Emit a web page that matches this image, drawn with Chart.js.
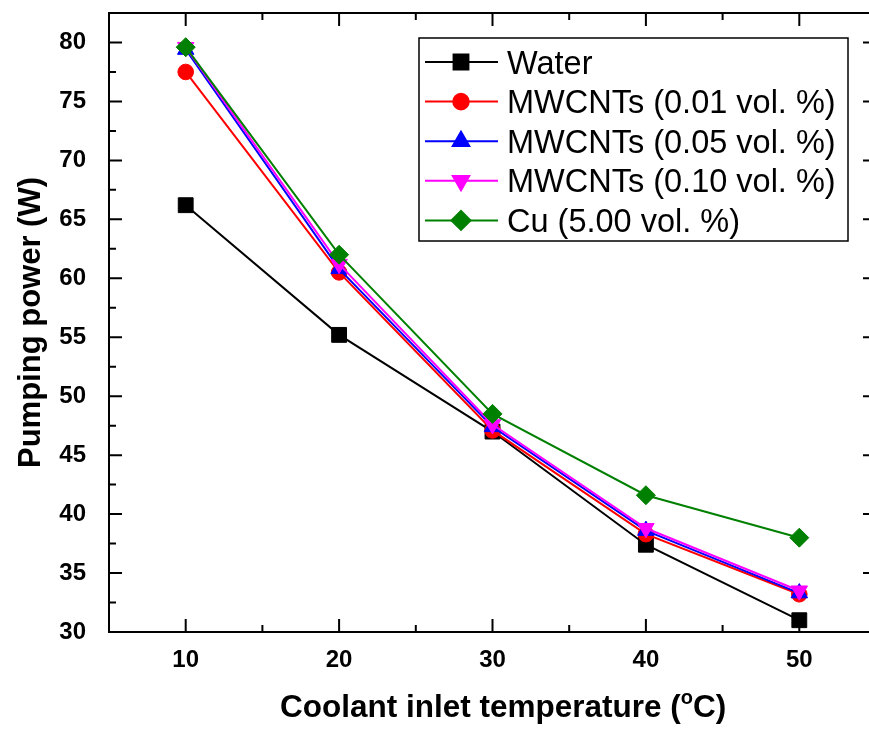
<!DOCTYPE html>
<html>
<head>
<meta charset="utf-8">
<script src="https://cdn.jsdelivr.net/npm/chart.js@4.4.1/dist/chart.umd.min.js"></script>
<style>
  html, body { margin: 0; padding: 0; background: #fff; overflow: hidden; }
  #wrap { width: 888px; height: 729px; }
</style>
</head>
<body>
<div id="wrap"><canvas id="chart" width="888" height="729"></canvas></div>
<script>
// data
const temps = [10, 20, 30, 40, 50];
const water = [66.2, 55.2, 47.0, 37.4, 31.0];
const mw001 = [77.5, 60.5, 47.1, 38.3, 33.2];
const mw005 = [79.4, 60.8, 47.4, 38.6, 33.3];
const mw010 = [79.6, 61.2, 47.6, 38.8, 33.5];
const cu500 = [79.6, 62.0, 48.5, 41.6, 38.0];

const seriesNames = ['Water', 'MWCNTs (0.01 vol. %)', 'MWCNTs (0.05 vol. %)', 'MWCNTs (0.10 vol. %)', 'Cu (5.00 vol. %)'];
const xTicks = [10, 20, 30, 40, 50];
const xMinor = [15, 25, 35, 45];
const yTicks = [30, 35, 40, 45, 50, 55, 60, 65, 70, 75, 80];
const yMinor = [32.5, 37.5, 42.5, 47.5, 52.5, 57.5, 62.5, 67.5, 72.5, 77.5];
const xTitle = ['Coolant inlet temperature (', 'o', 'C)'];

const FONT = "Arial, 'Liberation Sans', sans-serif";

const styles = [
  { color: '#000000', shape: 'rect', r: 10.5, rot: 0 },
  { color: '#ff0000', shape: 'circle', r: 7.8, rot: 0 },
  { color: '#0000ff', shape: 'triangle', r: 9.5, rot: 0 },
  { color: '#ff00ff', shape: 'triangle', r: 9.5, rot: 180 },
  { color: '#008000', shape: 'rectRot', r: 9.5, rot: 0 }
];

const allValues = [water, mw001, mw005, mw010, cu500];

const datasets = allValues.map((vals, i) => ({
  label: seriesNames[i],
  data: temps.map((t, j) => ({ x: t, y: vals[j] })),
  borderColor: styles[i].color,
  backgroundColor: styles[i].color,
  pointBackgroundColor: styles[i].color,
  pointBorderColor: styles[i].color,
  pointBorderWidth: 1,
  pointStyle: styles[i].shape,
  pointRotation: styles[i].rot,
  pointRadius: styles[i].r,
  borderWidth: 2,
  tension: 0,
  order: 5 - i
}));

function noPad(s) {
  s.paddingTop = 0; s.paddingBottom = 0; s.paddingLeft = 0; s.paddingRight = 0;
}

// frame, inward ticks, x title and the legend box
const framePlugin = {
  id: 'frame',
  afterDraw(chart) {
    const ctx = chart.ctx;
    const ca = chart.chartArea;
    const xs = chart.scales.x, ys = chart.scales.y;
    ctx.save();
    ctx.strokeStyle = '#000';
    ctx.lineWidth = 2;
    ctx.strokeRect(ca.left, ca.top, ca.right - ca.left, ca.bottom - ca.top);

    ctx.beginPath();
    xTicks.forEach(v => {
      const px = xs.getPixelForValue(v);
      ctx.moveTo(px, ca.bottom); ctx.lineTo(px, ca.bottom - 13);
      ctx.moveTo(px, ca.top); ctx.lineTo(px, ca.top + 13);
    });
    xMinor.forEach(v => {
      const px = xs.getPixelForValue(v);
      ctx.moveTo(px, ca.bottom); ctx.lineTo(px, ca.bottom - 7);
      ctx.moveTo(px, ca.top); ctx.lineTo(px, ca.top + 7);
    });
    yTicks.forEach(v => {
      const py = ys.getPixelForValue(v);
      ctx.moveTo(ca.left, py); ctx.lineTo(ca.left + 13, py);
      ctx.moveTo(ca.right, py); ctx.lineTo(ca.right - 13, py);
    });
    yMinor.forEach(v => {
      const py = ys.getPixelForValue(v);
      ctx.moveTo(ca.left, py); ctx.lineTo(ca.left + 7, py);
      ctx.moveTo(ca.right, py); ctx.lineTo(ca.right - 7, py);
    });
    ctx.stroke();

    // x axis title with superscript o
    ctx.fillStyle = '#000';
    ctx.textBaseline = 'alphabetic';
    ctx.textAlign = 'left';
    let tx = 280;
    const ty = ca.bottom + 85;
    ctx.font = 'bold 31.5px ' + FONT;
    ctx.fillText(xTitle[0], tx, ty);
    tx += ctx.measureText(xTitle[0]).width;
    ctx.font = 'bold 20px ' + FONT;
    ctx.fillText(xTitle[1], tx, ty - 13);
    tx += ctx.measureText(xTitle[1]).width;
    ctx.font = 'bold 31.5px ' + FONT;
    ctx.fillText(xTitle[2], tx, ty);

    // legend
    const lx = ca.left + 310, ly = ca.top + 25;
    const lw = 429, lh = 203;
    ctx.fillStyle = '#fff';
    ctx.fillRect(lx, ly, lw, lh);
    ctx.lineWidth = 1.5;
    ctx.strokeRect(lx, ly, lw, lh);
    ctx.font = '32.5px ' + FONT;
    seriesNames.forEach((name, i) => {
      const y = ly + 24 + i * 39.6;
      const st = styles[i];
      ctx.strokeStyle = st.color;
      ctx.lineWidth = 2;
      ctx.beginPath();
      ctx.moveTo(lx + 6, y); ctx.lineTo(lx + 79, y);
      ctx.stroke();
      ctx.fillStyle = st.color;
      Chart.helpers.drawPoint(ctx, { pointStyle: st.shape, radius: st.r, rotation: st.rot, borderWidth: 1 }, lx + 42, y);
      ctx.fill();
      ctx.fillStyle = '#000';
      ctx.fillText(name, lx + 88, y + 11.5);
    });
    ctx.restore();
  }
};

new Chart(document.getElementById('chart'), {
  type: 'line',
  data: { datasets: datasets },
  plugins: [framePlugin],
  options: {
    responsive: false,
    animation: false,
    devicePixelRatio: 1,
    layout: { padding: { top: 13, right: 12, left: 0, bottom: 0 } },
    plugins: { legend: { display: false }, tooltip: { enabled: false } },
    scales: {
      x: {
        type: 'linear',
        min: 5,
        max: 55,
        afterBuildTicks: (s) => { s.ticks = xTicks.map(v => ({ value: v })); },
        afterFit: (s) => { s.height = 97; noPad(s); },
        grid: { display: false },
        border: { display: false },
        ticks: { color: '#000', padding: 6, font: { family: FONT, size: 24, weight: 'bold' } },
        title: { display: false }
      },
      y: {
        type: 'linear',
        min: 30,
        max: 82.5,
        afterBuildTicks: (s) => { s.ticks = yTicks.map(v => ({ value: v })); },
        afterFit: (s) => { s.width = 109; noPad(s); },
        grid: { display: false },
        border: { display: false },
        ticks: { color: '#000', padding: 15, font: { family: FONT, size: 24, weight: 'bold' } },
        title: {
          display: true,
          text: 'Pumping power (W)',
          color: '#000',
          padding: { top: 13, bottom: 0 },
          font: { family: FONT, size: 31, weight: 'bold' }
        }
      }
    }
  }
});
</script>
</body>
</html>
